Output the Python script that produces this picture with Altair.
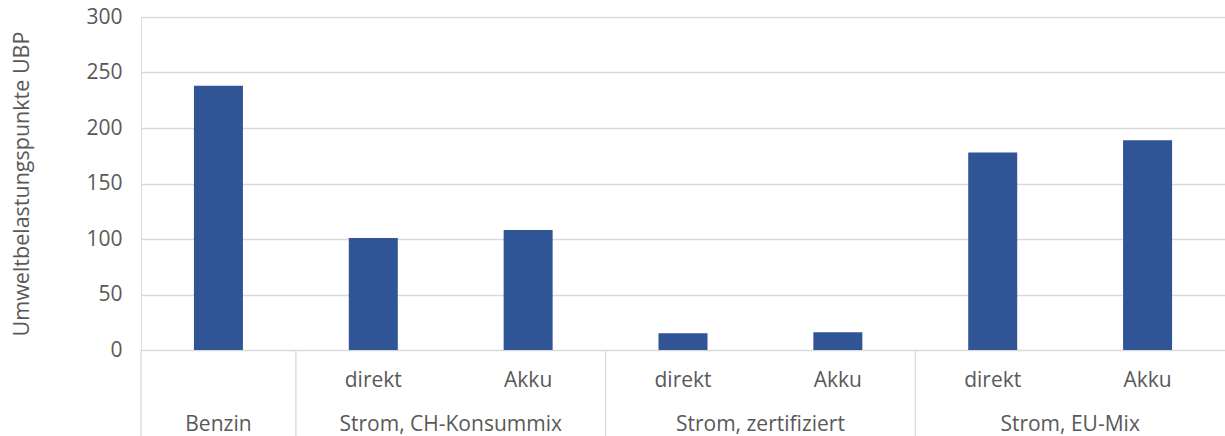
import altair as alt
import pandas as pd

groups = ["Benzin", "Strom, CH-Konsummix", "Strom, zertifiziert", "Strom, EU-Mix"]
bar_group = [0, 1, 1, 2, 2, 3, 3]
sub_labels = ["", "direkt", "Akku", "direkt", "Akku", "direkt", "Akku"]
values = [238, 101, 108, 15, 16, 178, 189]
y_ticks = [0, 50, 100, 150, 200, 250, 300]
y_title = "Umweltbelastungspunkte UBP"

FONT = "Open Sans"
FS = 21
TXT = "#595959"
GRID = "#d9d9d9"
BAR = "#2f5597"

W, H = 1084, 333

n = len(values)
bars = pd.DataFrame({
    "pos": [i + 0.5 for i in range(n)],
    "value": values,
    "sub": sub_labels,
})

# group boundaries and centres (in bar-slot units)
bounds = [0]
centres = []
start = 0
for gi, g in enumerate(groups):
    cnt = bar_group.count(gi)
    centres.append(start + cnt / 2)
    start += cnt
    bounds.append(start)
sep = pd.DataFrame({"b": bounds[:-1]})
grp = pd.DataFrame({"c": centres, "g": groups})

xscale = alt.Scale(domain=[0, n], nice=False, zero=False, padding=0)

bar_layer = alt.Chart(bars).mark_bar(size=49, color=BAR).encode(
    x=alt.X("pos:Q", scale=xscale, axis=None),
    y=alt.Y("value:Q",
            scale=alt.Scale(domain=[0, 300], nice=False),
            axis=alt.Axis(values=y_ticks, title=y_title, grid=True, gridColor=GRID,
                          gridWidth=1.3, domain=False, ticks=False, tickSize=0,
                          labelPadding=19, labelFont=FONT, labelFontSize=FS,
                          labelColor=TXT, titleFont=FONT, titleFontSize=21.5,
                          titleColor=TXT, titleFontWeight="normal", titlePadding=52)),
)

sub_layer = alt.Chart(bars).mark_text(font=FONT, fontSize=FS, color=TXT,
                                      baseline="middle", align="center").encode(
    x=alt.X("pos:Q", scale=xscale, axis=None),
    y=alt.value(364),
    text="sub:N",
)

grp_layer = alt.Chart(grp).mark_text(font=FONT, fontSize=FS, color=TXT,
                                     baseline="middle", align="center").encode(
    x=alt.X("c:Q", scale=xscale, axis=None),
    y=alt.value(408),
    text="g:N",
)

sep_layer = alt.Chart(sep).mark_rule(color=GRID, strokeWidth=1.3).encode(
    x=alt.X("b:Q", scale=xscale, axis=None),
    y=alt.value(H),
    y2=alt.value(436 - 17),
)

chart = alt.layer(bar_layer, sep_layer, sub_layer, grp_layer).properties(
    width=W, height=H,
    autosize=alt.AutoSizeParams(type="none"),
    padding={"left": 141, "top": 17, "right": 0, "bottom": 86},
).configure_view(stroke=None).configure(background="white")

chart.save("out.html", embed_options={"renderer": "svg", "actions": False})
